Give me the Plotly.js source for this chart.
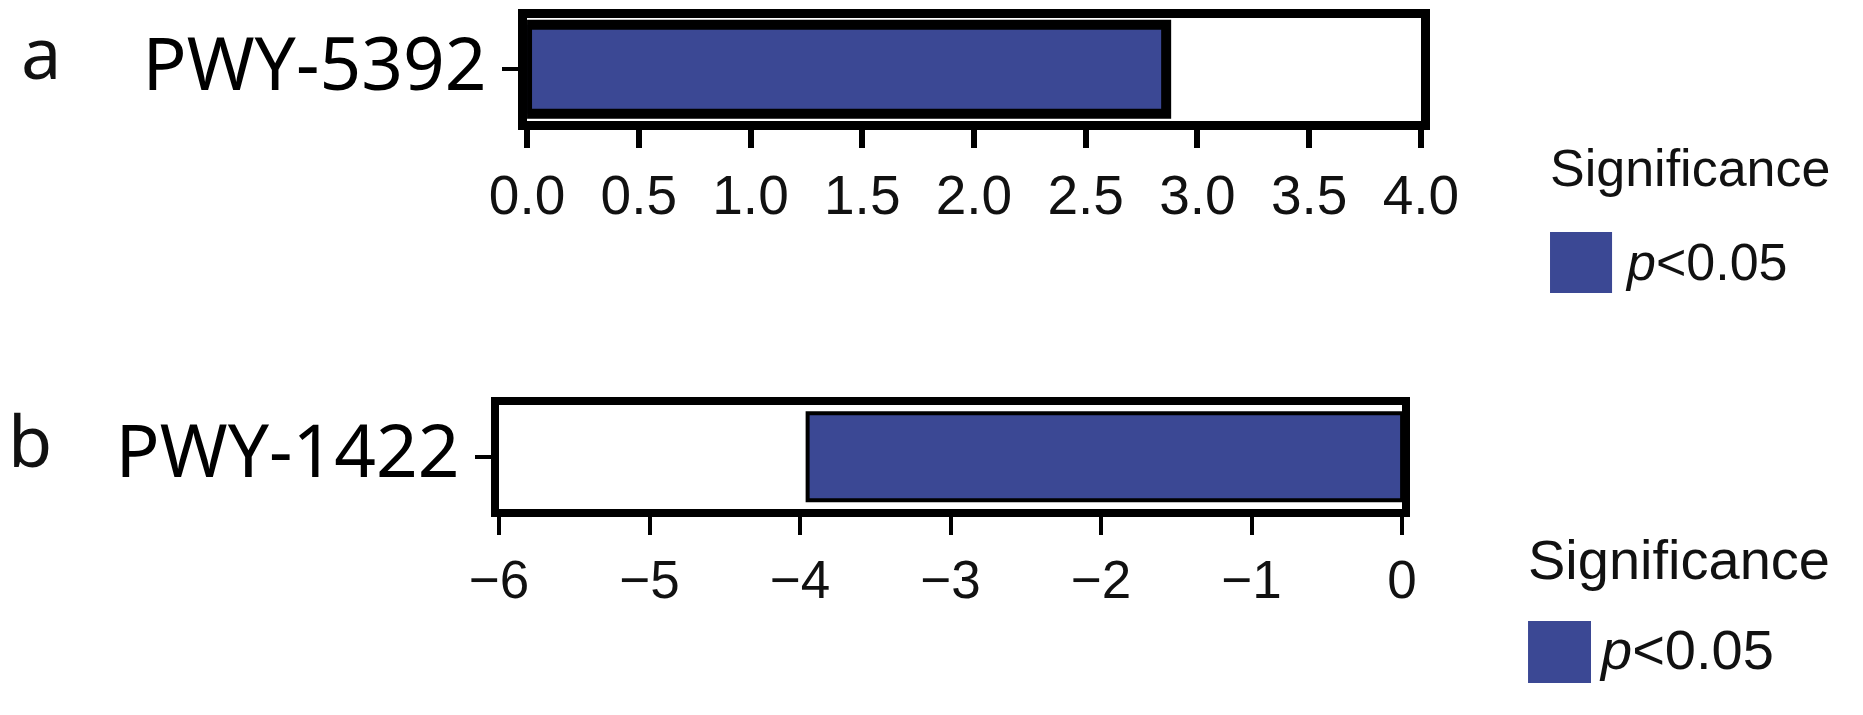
<!DOCTYPE html>
<html>
<head>
<meta charset="utf-8">
<script src="https://cdn.plot.ly/plotly-3.0.1.min.js"></script>
<style>
  html, body { margin: 0; padding: 0; background: #fff; }
  #chart { width: 1863px; height: 715px; }
</style>
</head>
<body>
<div id="chart"></div>
<script>
// Differential pathways, panel a and panel b
const pathwaysA = ['PWY-5392'];
const valuesA = [2.86];
const pathwaysB = ['PWY-1422'];
const valuesB = [-3.95];
const ticksA = [0, 0.5, 1, 1.5, 2, 2.5, 3, 3.5, 4];
const ticksB = [-6, -5, -4, -3, -2, -1, 0];
const panelLabels = ['a', 'b'];
const legendTitle = 'Significance';
const legendItems = ['<i>p</i>&lt;0.05'];
const sigColor = '#3b4894';

const catFont = { family: 'Noto Sans, sans-serif', size: 73, color: '#000' };

// shared axis look: heavy black frame, outside ticks
function xAxis(domain, range, ticks, fmt, lw, tw, fs) {
  return {
    domain: domain, range: range, tickvals: ticks, tickformat: fmt,
    ticks: 'outside', ticklen: 18, tickwidth: tw, tickcolor: '#000',
    showline: true, mirror: true, linewidth: lw, linecolor: '#000',
    showgrid: false, zeroline: false,
    tickfont: { family: 'Liberation Sans, Arial, sans-serif', size: fs, color: '#111' },
    ticklabelstandoff: 0, fixedrange: true
  };
}

function yAxis(domain, lw) {
  return {
    domain: domain, range: [-0.5, 0.5], type: 'category',
    ticks: 'outside', ticklen: 16, tickwidth: 4, tickcolor: '#000',
    showline: true, mirror: true, linewidth: lw, linecolor: '#000',
    showgrid: false, zeroline: false, tickfont: catFont,
    ticklabelstandoff: 1, ticklabelshift: -5, fixedrange: true
  };
}

const data = [
  {
    type: 'bar', orientation: 'h', x: valuesA, y: pathwaysA,
    xaxis: 'x', yaxis: 'y', width: 0.86,
    marker: { color: sigColor, line: { color: '#000', width: 10 } },
    hoverinfo: 'x+y'
  },
  {
    type: 'bar', orientation: 'h', x: valuesB, y: pathwaysB,
    xaxis: 'x2', yaxis: 'y2', width: 0.84,
    marker: { color: sigColor, line: { color: '#000', width: 4 } },
    hoverinfo: 'x+y'
  }
];

// panel letters and the hand-built legends
const letterFont = { family: 'Noto Sans, sans-serif', size: 72, color: '#111' };
const annotations = [
  { text: panelLabels[0], x: 0.010, y: 1, yanchor: 'top' },
  { text: panelLabels[1], x: 0.003, y: 0.386, yanchor: 'middle' }
].map(a => ({
  ...a, xref: 'paper', yref: 'paper', xanchor: 'left',
  showarrow: false, font: letterFont
}));

const legends = [
  { titleX: 0.831, titleY: 0.765, boxX: [0.832, 0.8653], boxY: [0.5902, 0.6755], itemX: 0.871, itemY: 0.634, fs: 52 },
  { titleX: 0.819, titleY: 0.217, boxX: [0.8202, 0.854], boxY: [0.0448, 0.1315], itemX: 0.857, itemY: 0.091, fs: 56 }
];

const shapes = [];
legends.forEach(l => {
  const legFont = { family: 'Liberation Sans, Arial, sans-serif', size: l.fs, color: '#111' };
  annotations.push({
    text: legendTitle, x: l.titleX, y: l.titleY, xref: 'paper', yref: 'paper',
    xanchor: 'left', yanchor: 'middle', showarrow: false, font: legFont
  });
  annotations.push({
    text: legendItems[0], x: l.itemX, y: l.itemY, xref: 'paper', yref: 'paper',
    xanchor: 'left', yanchor: 'middle', showarrow: false, font: legFont
  });
  shapes.push({
    type: 'rect', xref: 'paper', yref: 'paper',
    x0: l.boxX[0], x1: l.boxX[1], y0: l.boxY[0], y1: l.boxY[1],
    fillcolor: sigColor, line: { width: 0 }
  });
});

const layout = {
  width: 1863, height: 715,
  margin: { t: 0, l: 0, r: 0, b: 0 },
  showlegend: false,
  plot_bgcolor: '#fff', paper_bgcolor: '#fff',
  xaxis: xAxis([0.2829, 0.7627], [0, 4], ticksA, '.1f', 9, 6, 55),
  yaxis: { ...yAxis([0.8308, 0.9755], 9), anchor: 'x' },
  xaxis2: { ...xAxis([0.2679, 0.7526], [-6, 0], ticksB, 'd', 8, 4, 53), anchor: 'y2' },
  yaxis2: { ...yAxis([0.2888, 0.4336], 8), anchor: 'x2' },
  annotations: annotations,
  shapes: shapes
};

Plotly.newPlot('chart', data, layout, { displayModeBar: false, staticPlot: true });
</script>
</body>
</html>
